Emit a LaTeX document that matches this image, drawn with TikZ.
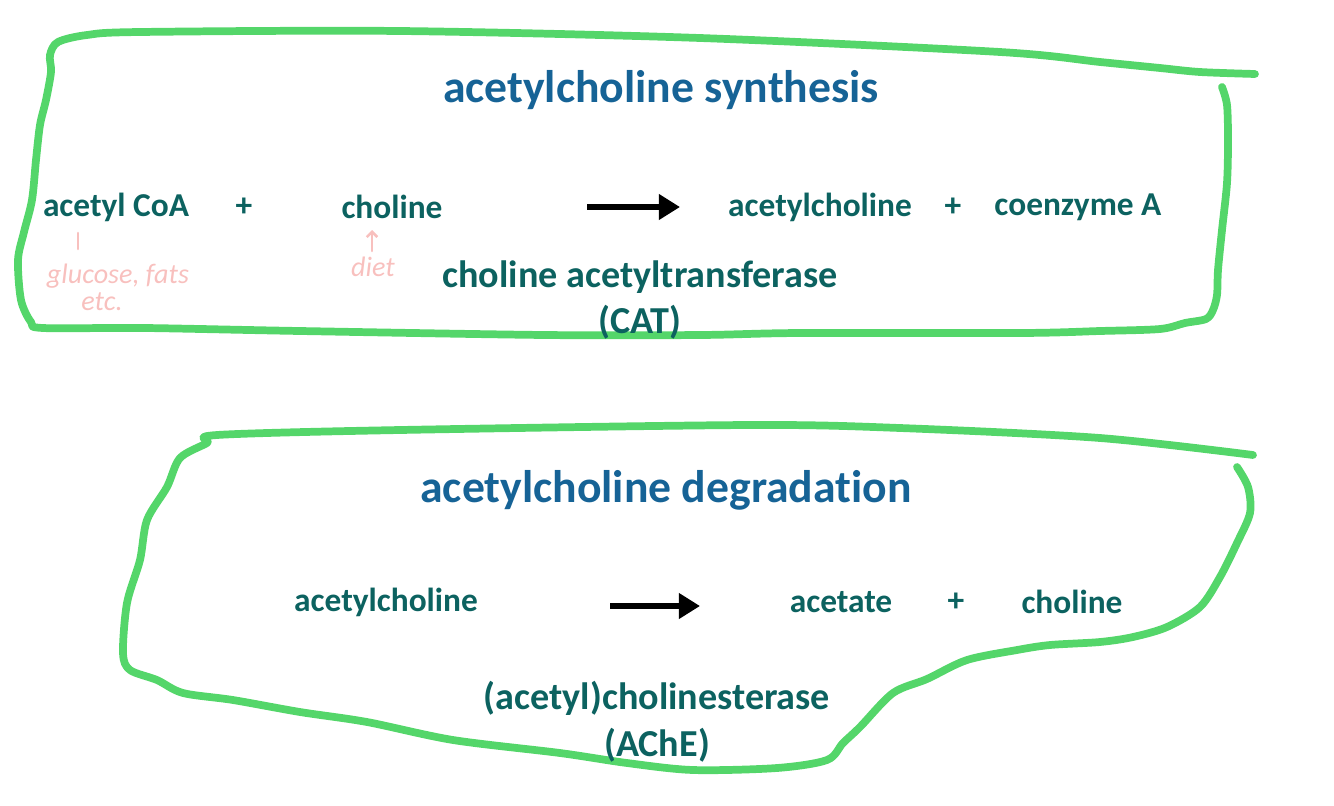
\documentclass[tikz,border=0pt]{standalone}
\usepackage{fontspec}
\setmainfont{Carlito}[Ligatures=NoCommon]
\usetikzlibrary{arrows.meta,positioning}

\definecolor{titleblue}{RGB}{22,99,150}
\definecolor{chemteal}{RGB}{12,98,96}
\definecolor{pengreen}{RGB}{84,214,106}
\definecolor{penpink}{RGB}{248,192,190}

\begin{document}
\begin{tikzpicture}[x=0.02cm,y=-0.02cm,
    heading/.style={text=titleblue,font=\fontsize{26}{30}\selectfont\bfseries},
    chem/.style={text=chemteal,font=\fontsize{19}{26}\selectfont\bfseries},
    enzyme/.style={text=chemteal,font=\fontsize{21.7}{26.5}\selectfont\bfseries,align=center},
    outline/.style={draw=pengreen,line width=4.4pt,line cap=round,line join=round},
    scribble/.style={text=penpink,font=\fontsize{16}{17}\selectfont\itshape,inner sep=0.5pt},
    scribblepen/.style={draw=penpink,line width=1.5pt,line cap=round},
    reaction/.style={line width=3.4pt,-{Triangle[length=12pt,width=14pt]}}]

    % Fix the page to the reference size
    \useasboundingbox (0,0) rectangle (1334,805);

    % Hand-drawn frames
    \draw[outline] plot[smooth,tension=0.5] coordinates {
        (1222,87) (1227,105) (1228,140) (1227,183) (1222,230) (1218,270)
        (1217,295) (1213,310) (1206,319) (1185,323) (1160,329) (1100,331)
        (1021,333) (800,333) (700,335) (545,335) (300,331) (145,328)
        (43,328) (31,322) (21,300) (18,260) (24,232) (32,200) (36,160)
        (40,125) (46,100) (51,72) (50,55) (58,42) (87,35) (140,32)
        (400,31) (700,38) (1000,52) (1100,62) (1160,68) (1200,72) (1255,74)};
    \draw[outline] plot[smooth,tension=0.5] coordinates {
        (1237,467) (1248,487) (1250,513) (1237,543) (1220,577) (1200,607)
        (1167,627) (1133,637) (1100,642) (1050,645) (1017,650) (967,660)
        (927,679) (893,693) (860,727) (843,743) (827,760) (777,768)
        (693,770) (627,763) (560,753) (453,740) (367,722) (300,712)
        (233,700) (183,693) (157,680) (130,670) (123,653) (127,603)
        (140,560) (147,520) (167,487) (180,458) (207,443) (217,435)
        (400,430) (750,425) (900,428) (1100,438) (1253,455)};

    % Synthesis
    \node[heading] (synth) at (661,90) {acetylcholine synthesis};
    \node[chem] (acoa) at (116,207) {acetyl CoA};
    \node[chem] (plusa) at (244,207) {+};
    \node[chem] (cholin) at (392,207) {choline};
    \node[chem] (achprod) at (820,207) {acetylcholine};
    \node[chem] (plusb) at (953,207) {+};
    \node[chem] (coa) at (1078,207) {coenzyme A};
    \node[enzyme] (cat) at (640,300) {choline acetyltransferase\\(CAT)};
    \coordinate (synthfrom) at (587,207);
    \coordinate (synthto) at (680,207);
    \draw[reaction] (synthfrom) -- (synthto);

    % Handwritten notes
    \node[scribble] (gluc) at (118,276) {glucose, fats};
    \node[scribble] (etc) at (102,302) {etc.};
    \node[scribble] (diet) at (373,267) {diet};
    \coordinate (gluctop) at (78,233);
    \coordinate (glucbot) at (78,249);
    \coordinate (dietbot) at (372,251);
    \coordinate (diettop) at (372,230);
    \draw[scribblepen] (gluctop) -- (glucbot);
    \draw[scribblepen,-{Straight Barb[length=3pt,width=6pt]}] (dietbot) -- (diettop);

    % Degradation
    \node[heading] (degr) at (666,490) {acetylcholine degradation};
    \node[chem] (achsub) at (386,602) {acetylcholine};
    \node[chem] (acet) at (841,602) {acetate};
    \node[chem] (plusc) at (956,602) {+};
    \node[chem] (cholout) at (1072,602) {choline};
    \node[enzyme] (ache) at (657,722) {(acetyl)cholinesterase\\(AChE)};
    \coordinate (degrfrom) at (610,606);
    \coordinate (degrto) at (700,606);
    \draw[reaction] (degrfrom) -- (degrto);
\end{tikzpicture}
\end{document}
